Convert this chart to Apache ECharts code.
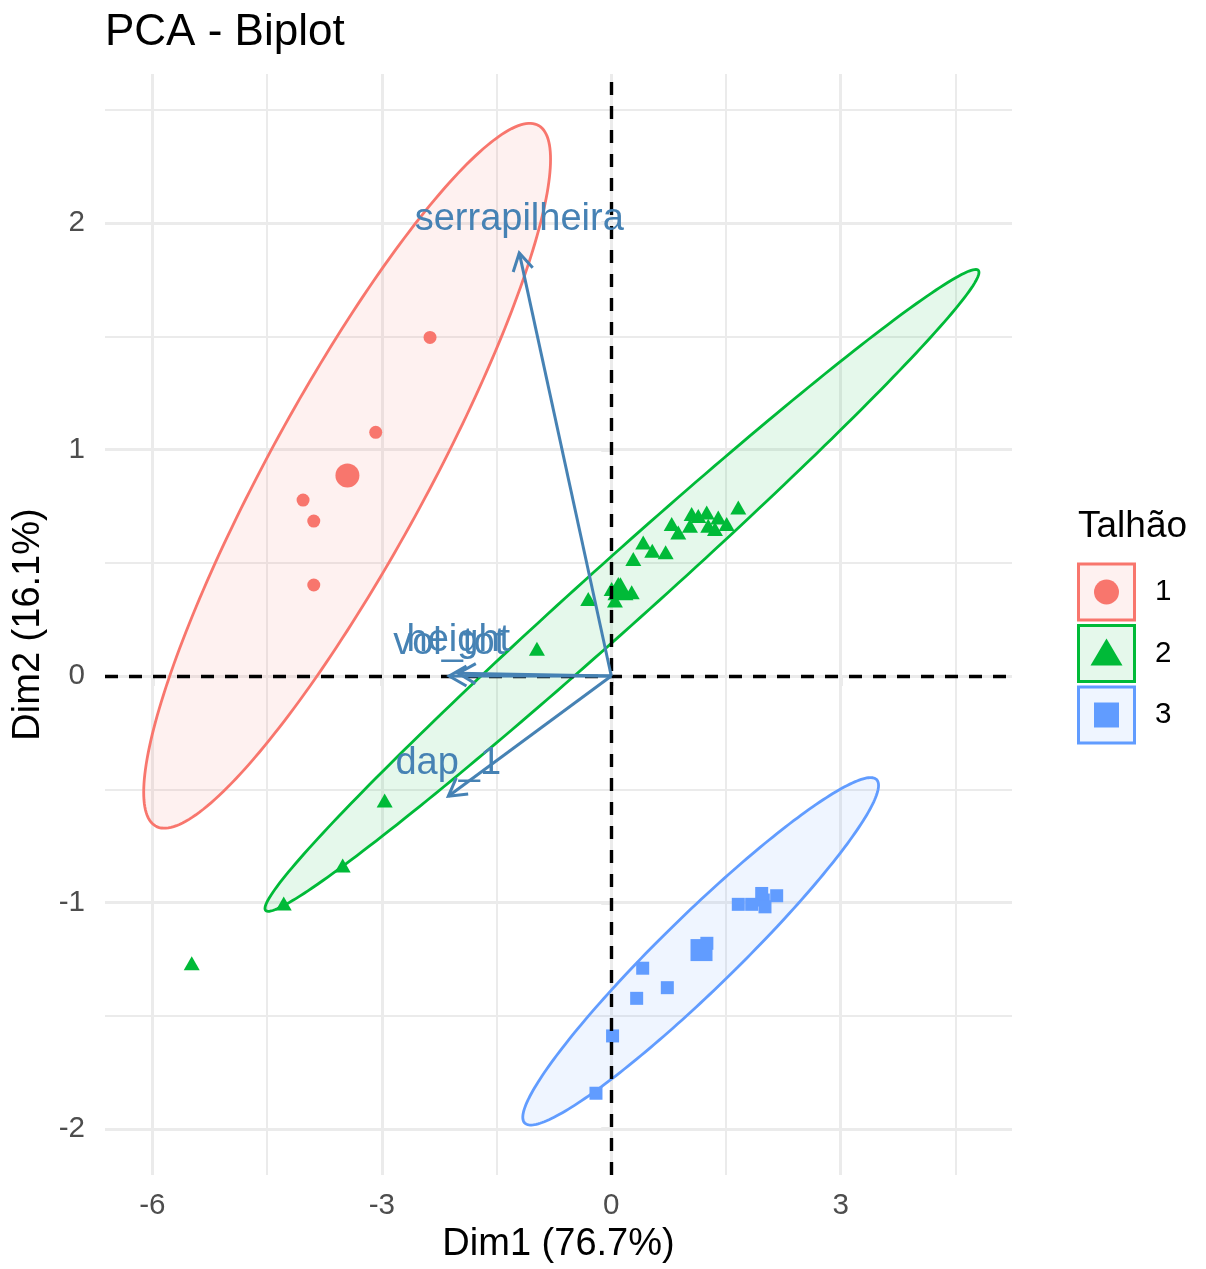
<!DOCTYPE html>
<html><head><meta charset="utf-8">
<script src="https://cdn.jsdelivr.net/npm/echarts@6/dist/echarts.min.js"></script>
<style>html,body{margin:0;padding:0;background:#fff}#c{width:1206px;height:1269px}</style>
</head><body><div id="c"></div>
<script>
// ---- data ----
const groupNames = ['1', '2', '3'];
const groupColors = ['#F8766D', '#00BA38', '#619CFF'];
const ind1 = [[-2.37,1.495],[-3.08,1.076],[-4.03,0.777],[-3.89,0.684],[-3.89,0.402]];
const ind2 = [[-5.486,-1.268],[-4.283,-1.004],[-3.512,-0.837],[-2.963,-0.550],[-0.972,0.120],
  [-0.301,0.340],[0.092,0.406],[0.005,0.384],[0.136,0.370],[0.267,0.370],[0.048,0.333],
  [0.288,0.517],[0.418,0.590],[0.536,0.553],[0.711,0.546],[0.790,0.671],[0.876,0.634],
  [1.029,0.663],[1.051,0.715],[1.138,0.707],[1.248,0.722],[1.268,0.663],[1.356,0.649],
  [1.399,0.700],[1.509,0.671],[1.661,0.744]];
const ind3 = [[-0.200,-1.842],[0.017,-1.589],[0.332,-1.423],[0.411,-1.290],[0.733,-1.376],
  [1.25,-1.18],[1.14,-1.22],[1.661,-1.008],[1.836,-1.008],[1.988,-0.989],[2.010,-1.019],
  [2.163,-0.970],[1.967,-0.960]];
const groupMeans = [[-3.45,0.885],[0.12,0.385],[1.18,-1.21]];
const ellipseCenters = [[-3.454,0.884],[0.140,0.378],[1.169,-1.2155]];
const ellipseHalfX = [2.660, 4.668, 2.326];
const ellipseHalfY = [1.556, 1.417, 0.767];
const ellipseRho = [0.898, 0.9908, 0.955];
const varNames = ['serrapilheira', 'vol_tot', 'height', 'dap_1'];
const varCoords = [[-1.203,1.868],[-2.12,0.0],[-2.00,0.012],[-2.131,-0.531]];
const xTicks = [-6, -3, 0, 3];
const yTicks = [-2, -1, 0, 1, 2];
const xMinor = [-4.5, -1.5, 1.5, 4.5];
const yMinor = [-1.5, -0.5, 0.5, 1.5, 2.5];
const xRange = [-6.62, 5.24];
const yRange = [-2.203, 2.658];

const FONT = '"Liberation Sans", Arial, Helvetica, sans-serif';
const chart = echarts.init(document.getElementById('c'), null, {renderer: 'canvas'});

function alpha(hex, a) {
  const r = parseInt(hex.slice(1,3),16), g = parseInt(hex.slice(3,5),16), b = parseInt(hex.slice(5,7),16);
  return 'rgba(' + r + ',' + g + ',' + b + ',' + a + ')';
}

const gridLines = [];
xTicks.forEach(v => gridLines.push({xAxis: v, lineStyle: {width: 3}}));
yTicks.forEach(v => gridLines.push({yAxis: v, lineStyle: {width: 3}}));
xMinor.forEach(v => gridLines.push({xAxis: v, lineStyle: {width: 2}}));
yMinor.forEach(v => gridLines.push({yAxis: v, lineStyle: {width: 2}}));

const series = [];
series.push({
  type: 'scatter', data: [], z: 1, silent: true,
  markLine: {z: 1, silent: true, symbol: ['none','none'], animation: false, label: {show: false},
    lineStyle: {color: '#EBEBEB', type: 'solid'}, data: gridLines}
});

groupNames.forEach((g, i) => {
  series.push({
    type: 'custom', z: 2, silent: true, animation: false,
    data: [[ellipseCenters[i][0], ellipseCenters[i][1]]],
    renderItem: function (params, api) {
      const cx = ellipseCenters[i][0], cy = ellipseCenters[i][1];
      const wx = ellipseHalfX[i], wy = ellipseHalfY[i], r = ellipseRho[i];
      const s = Math.sqrt(1 - r * r);
      const pts = [];
      for (let k = 0; k < 240; k++) {
        const t = 2 * Math.PI * k / 240;
        pts.push(api.coord([cx + wx * Math.cos(t), cy + wy * (r * Math.cos(t) + s * Math.sin(t))]));
      }
      return {type: 'polygon', shape: {points: pts},
        style: {fill: alpha(groupColors[i], 0.1), stroke: groupColors[i], lineWidth: 2.8}};
    }
  });
});

const inds = [ind1, ind2, ind3];
const symbols = ['circle', 'triangle', 'rect'];
const smallSizes = [13, [16, 14], 13];
const bigSizes = [24, [26, 23], 22];
groupNames.forEach((g, i) => {
  series.push({type: 'scatter', name: g, z: 3, silent: true, animation: false,
    data: inds[i], symbol: symbols[i], symbolSize: smallSizes[i],
    itemStyle: {color: groupColors[i], opacity: 1}});
  series.push({type: 'scatter', z: 3, silent: true, animation: false,
    data: [groupMeans[i]], symbol: symbols[i], symbolSize: bigSizes[i],
    itemStyle: {color: groupColors[i], opacity: 1}});
});

series.push({
  type: 'scatter', data: [], z: 4, silent: true,
  markLine: {z: 4, silent: true, symbol: ['none','none'], animation: false, label: {show: false},
    lineStyle: {color: '#000', type: [13, 11], width: 3.4},
    data: [{xAxis: 0}, {yAxis: 0}]}
});

series.push({
  type: 'custom', z: 5, silent: true, animation: false,
  data: varCoords.map((c, k) => [c[0], c[1], k]),
  renderItem: function (params, api) {
    const x = api.value(0), y = api.value(1), k = api.value(2);
    const p0 = api.coord([0, 0]), p1 = api.coord([x, y]);
    const ang = Math.atan2(p0[1] - p1[1], p0[0] - p1[0]);
    const L = 20, a = Math.PI / 6;
    const h1 = [p1[0] + L * Math.cos(ang + a), p1[1] + L * Math.sin(ang + a)];
    const h2 = [p1[0] + L * Math.cos(ang - a), p1[1] + L * Math.sin(ang - a)];
    const st = {stroke: '#4682B4', lineWidth: 3, fill: null, lineCap: 'butt', lineJoin: 'miter'};
    return {type: 'group', children: [
      {type: 'line', shape: {x1: p0[0], y1: p0[1], x2: p1[0], y2: p1[1]}, style: st},
      {type: 'polyline', shape: {points: [h1, p1, h2]}, style: st},
      {type: 'text', x: p1[0], y: p1[1] - 33, style: {text: varNames[k], fill: '#4682B4',
        font: '38px ' + FONT, align: 'center', verticalAlign: 'middle'}}
    ]};
  }
});

// legend drawn as graphic
const legendEls = [];
legendEls.push({type: 'text', left: 1078, top: 508, style: {text: 'Talhão', fill: '#000', font: '37px ' + FONT}});
const keyTops = [564, 625.5, 687];
groupNames.forEach((g, i) => {
  const y0 = keyTops[i], cxk = 1106.5, cyk = y0 + 28;
  legendEls.push({type: 'rect', shape: {x: 1078.5, y: y0, width: 56, height: 56},
    style: {fill: alpha(groupColors[i], 0.1), stroke: groupColors[i], lineWidth: 3}});
  if (i === 0) legendEls.push({type: 'circle', shape: {cx: cxk, cy: cyk, r: 12.5}, style: {fill: groupColors[i]}});
  if (i === 1) legendEls.push({type: 'polygon', shape: {points: [[cxk, cyk - 15], [cxk + 16, cyk + 12], [cxk - 16, cyk + 12]]}, style: {fill: groupColors[i]}});
  if (i === 2) legendEls.push({type: 'rect', shape: {x: cxk - 12.5, y: cyk - 12.5, width: 25, height: 25}, style: {fill: groupColors[i]}});
  legendEls.push({type: 'text', x: 1155, y: cyk, style: {text: g, fill: '#000', font: '29.6px ' + FONT, verticalAlign: 'middle'}});
});

chart.setOption({
  animation: false,
  backgroundColor: '#fff',
  title: {text: 'PCA - Biplot', left: 100, top: 6,
    textStyle: {fontSize: 44, fontWeight: 'normal', color: '#000', fontFamily: FONT}},
  grid: {left: 105, right: 194, top: 74, bottom: 92, containLabel: false},
  xAxis: {type: 'value', min: xRange[0], max: xRange[1],
    splitLine: {show: false}, axisLine: {show: false},
    axisTick: {show: true, customValues: xTicks, length: 10, lineStyle: {color: '#333', width: 2.2}},
    axisLabel: {customValues: xTicks, margin: 16, fontSize: 29.6, color: '#4D4D4D', fontFamily: FONT},
    name: 'Dim1 (76.7%)', nameLocation: 'middle', nameGap: 51,
    nameTextStyle: {fontSize: 38, color: '#000', fontFamily: FONT}},
  yAxis: {type: 'value', min: yRange[0], max: yRange[1],
    splitLine: {show: false}, axisLine: {show: false},
    axisTick: {show: true, customValues: yTicks, length: 10, lineStyle: {color: '#333', width: 2.2}},
    axisLabel: {customValues: yTicks, margin: 20, fontSize: 29.6, color: '#4D4D4D', fontFamily: FONT},
    name: 'Dim2 (16.1%)', nameLocation: 'middle', nameGap: 45, nameRotate: 90,
    nameTextStyle: {fontSize: 38, color: '#000', fontFamily: FONT}},
  graphic: legendEls,
  series: series
});
</script></body></html>
